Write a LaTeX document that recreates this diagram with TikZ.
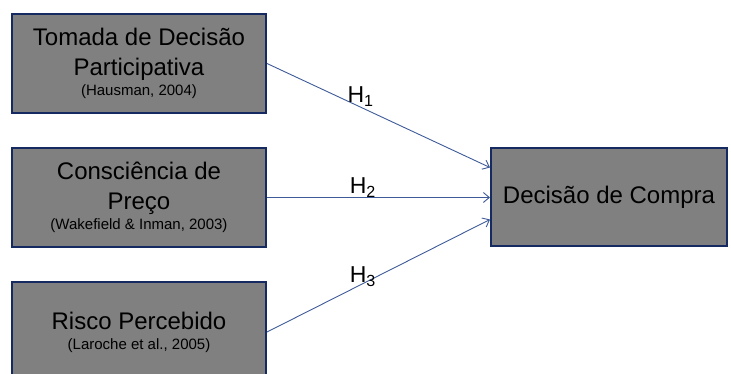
\documentclass[tikz,border=0pt]{standalone}
\usepackage{fontspec}
\setmainfont{Liberation Sans}
\usetikzlibrary{positioning, arrows.meta}
\definecolor{boxnavy}{RGB}{22,42,98}
\definecolor{boxgray}{RGB}{128,128,128}
\definecolor{linkblue}{RGB}{62,90,152}
\tikzstyle{fator} = [rectangle, draw=boxnavy, line width=2pt, fill=boxgray, minimum width=254pt, minimum height=99pt, align=center, inner sep=0pt, font=\fontsize{24}{30}\selectfont]
\tikzstyle{myarrow} = [-{Straight Barb[length=6pt,width=10pt]}, draw=linkblue, line width=0.9pt]
\tikzstyle{hip} = [anchor=south, inner sep=0pt, font=\fontsize{23}{27}\selectfont]
\newcommand{\cita}[1]{\\[-10pt]{\fontsize{15}{17}\selectfont #1}}

\begin{document}
\begin{tikzpicture}[x=1pt, y=1pt]
\useasboundingbox (0,0) rectangle (731,-374);
\node (tomada)[fator] at (139,-63.5) {Tomada de Decisão\\Participativa\cita{(Hausman, 2004)}};
\node (consc)[fator, below=33pt of tomada] {Consciência de\\Preço\cita{(Wakefield \& Inman, 2003)}};
\node (risco)[fator, below=33pt of consc, minimum height=100pt] {Risco Percebido\cita{(Laroche et al., 2005)}};
\node (decisao)[fator, right=223pt of consc, minimum width=236pt, minimum height=98pt] {Decisão de Compra};

\draw [myarrow] (tomada.east) -- node[hip, pos=0.42]{H\textsubscript{1}} ([yshift=30pt]decisao.west);
\draw [myarrow] (consc.east) -- node[hip, pos=0.43]{H\textsubscript{2}} (decisao.west);
\draw [myarrow] (risco.east) -- node[hip, pos=0.43, yshift=-3pt]{H\textsubscript{3}} ([yshift=-22pt]decisao.west);
\end{tikzpicture}
\end{document}
